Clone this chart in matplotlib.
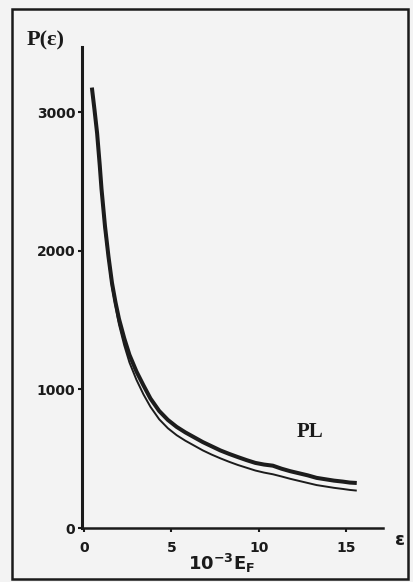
import numpy as np
import matplotlib
matplotlib.use('Agg')
import matplotlib.pyplot as plt
from matplotlib.patches import Rectangle

# данные
x_thick = [0.45, 0.6, 0.75, 0.9, 1.0, 1.2, 1.4, 1.6, 1.8, 2.0, 2.3, 2.6, 3.0, 3.4, 3.8,
           4.3, 4.8, 5.3, 5.8, 6.3, 6.8, 7.3, 7.8, 8.3, 8.8, 9.3, 9.8, 10.3, 10.8,
           11.3, 11.8, 12.3, 12.8, 13.3, 13.8, 14.3, 14.8, 15.2, 15.6]
p_thick = [3180, 3020, 2850, 2620, 2450, 2180, 1960, 1770, 1630, 1510, 1370, 1250, 1130, 1030, 935,
           845, 780, 730, 690, 655, 620, 590, 560, 535, 512, 490, 470, 458, 450,
           428, 410, 395, 380, 362, 352, 342, 335, 328, 325]

x_thin = [0.9, 1.2, 1.6, 2.0, 2.3, 2.6, 3.0, 3.4, 3.8, 4.3, 4.8, 5.3, 5.8, 6.3, 6.8,
          7.3, 7.8, 8.3, 8.8, 9.3, 9.8, 10.3, 10.8, 11.3, 11.8, 12.3, 12.8, 13.3,
          13.8, 14.3, 14.8, 15.2, 15.6]
p_thin = [2600, 2150, 1740, 1470, 1320, 1195, 1070, 965, 875, 785, 720, 670, 630, 595, 560,
          530, 503, 478, 455, 435, 415, 400, 388, 372, 355, 340, 325, 310,
          300, 290, 282, 275, 270]

xticks = [0, 5, 10, 15]
yticks = [0, 1000, 2000, 3000]

W, H = 413, 582
fig = plt.figure(figsize=(W / 100, H / 100), dpi=100)
fig.patch.set_facecolor('#f3f3f3')

# рамка вокруг рисунка
fig.patches.append(Rectangle((12 / W, 1 - 579 / H), 396 / W, 570 / H, transform=fig.transFigure,
                             fill=False, edgecolor='#1a1a1a', linewidth=1.8))

ax = fig.add_axes([82.25 / W, 1 - 528 / H, 300.75 / W, 480.6 / H])
ax.set_facecolor('none')
ax.plot(x_thick, p_thick, color='#1c1c1c', linewidth=2.9, solid_capstyle='butt')
ax.plot(x_thin, p_thin, color='#1c1c1c', linewidth=1.4, solid_capstyle='butt')

ax.set_xlim(-0.1, 17.1)
ax.set_ylim(0, 3470)
ax.set_xticks(xticks)
ax.set_yticks(yticks)
ax.spines['top'].set_visible(False)
ax.spines['right'].set_visible(False)
ax.spines['left'].set_linewidth(2.2)
ax.spines['bottom'].set_linewidth(1.8)
ax.spines['left'].set_color('#1a1a1a')
ax.spines['bottom'].set_color('#1a1a1a')
ax.tick_params(axis='y', direction='out', length=3, width=1.5, pad=2, labelsize=10, colors='#1a1a1a')
ax.tick_params(axis='x', direction='out', length=3, width=1.5, pad=6, labelsize=10, colors='#1a1a1a')
for lab in ax.get_xticklabels() + ax.get_yticklabels():
    lab.set_fontweight('bold')

ax.text(12.9, 693, 'PL', fontsize=15, fontweight='bold', family='Liberation Serif',
        ha='center', va='center', color='#1a1a1a')

fig.text(27 / W, 1 - 45 / H, 'P(ε)', fontsize=16, fontweight='bold', family='Liberation Serif',
         ha='left', va='baseline', color='#1a1a1a')
fig.text(222 / W, 1 - 563 / H, r'$\mathbf{10^{-3}E_{F}}$', fontsize=13,
         ha='center', va='center', color='#1a1a1a')
fig.text(400 / W, 1 - 540 / H, 'ε', fontsize=13, fontweight='bold',
         ha='center', va='center', color='#1a1a1a')

fig.savefig('out.png', dpi=100, facecolor=fig.get_facecolor())
